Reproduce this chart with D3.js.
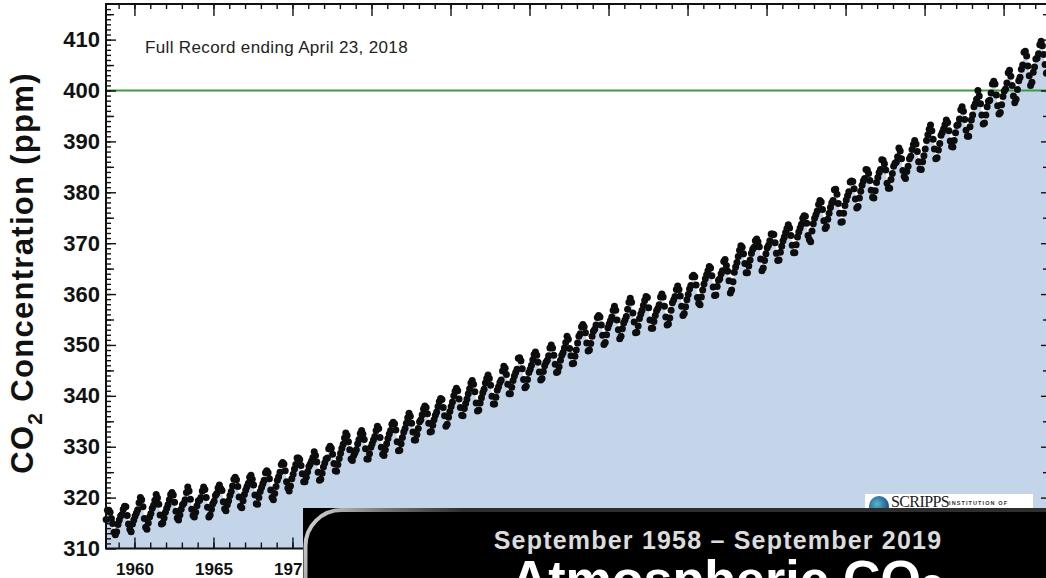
<!DOCTYPE html>
<html><head><meta charset="utf-8">
<script src="https://cdn.jsdelivr.net/npm/d3@7"></script>
<style>html,body{margin:0;padding:0;background:#fff;overflow:hidden}svg{display:block}</style>
</head><body><svg id="c" width="1046" height="578"></svg>
<script>
// ---- data (monthly mean CO2, ppm; first year starts in March) ----
const firstYear = 1958;
const firstMonth = 3;
const co2ByYear = [
 [315.7,317.5,317.5,317.1,315.9,314.9,313.2,312.7,313.3,314.7],
 [315.6,316.4,316.7,317.7,318.3,318.2,316.5,314.8,313.8,313.3,314.8,315.6],
 [316.4,317.0,317.6,319.0,320.0,319.6,318.2,315.9,314.2,313.8,315.0,316.2],
 [316.9,317.9,318.5,319.5,320.6,319.9,318.7,316.6,314.8,315.0,316.0,317.1],
 [317.9,318.6,319.6,320.6,321.0,320.5,319.1,317.3,316.0,315.6,316.6,317.7],
 [318.6,318.9,319.6,321.0,322.1,321.3,319.7,317.7,316.5,316.2,317.1,318.4],
 [319.4,319.5,320.0,321.3,322.1,321.6,320.0,318.1,316.2,316.6,317.7,318.8],
 [319.3,320.4,320.8,321.9,322.5,321.8,321.4,319.2,317.8,317.4,318.6,319.4],
 [320.4,321.2,322.3,323.6,324.0,323.5,322.2,320.1,318.3,318.0,319.4,320.6],
 [321.5,322.2,322.8,324.0,324.4,323.6,322.5,320.5,318.8,318.7,320.0,321.2],
 [322.0,322.7,323.4,324.9,325.3,324.9,323.7,321.5,320.0,319.6,320.8,322.2],
 [323.4,324.1,325.0,326.5,326.9,326.6,325.3,323.1,321.9,321.3,322.3,323.7],
 [324.6,325.6,326.5,327.8,327.8,327.5,326.3,324.7,323.1,323.1,324.0,325.1],
 [326.1,326.6,327.2,327.9,329.0,328.3,327.0,325.0,323.4,323.6,324.8,326.0],
 [326.8,327.6,327.8,329.6,330.1,329.7,328.5,326.7,325.3,325.2,326.5,327.7],
 [328.7,329.7,330.5,331.7,332.7,332.2,331.0,329.4,327.6,327.3,328.3,328.8],
 [329.4,330.6,331.4,332.6,333.2,332.5,331.4,329.6,327.6,327.6,328.6,329.9],
 [330.6,331.3,332.0,333.2,334.0,333.6,331.8,329.9,328.5,328.3,329.4,330.6],
 [331.6,332.5,333.2,334.4,334.8,334.5,333.3,331.0,329.2,329.3,330.6,331.8],
 [332.9,333.6,334.6,335.7,336.6,336.0,334.6,332.9,331.3,331.3,332.4,333.6],
 [334.9,335.3,336.3,337.4,338.0,337.7,336.5,334.6,332.9,333.0,334.2,335.3],
 [336.2,336.8,337.9,338.9,339.5,339.3,337.7,336.1,334.0,334.4,335.8,336.9],
 [337.9,338.8,340.0,340.9,341.5,341.0,339.4,337.7,336.2,336.1,337.5,338.5],
 [339.4,340.4,341.4,342.5,343.0,342.3,340.8,338.6,337.0,337.2,338.6,339.6],
 [340.6,341.3,342.5,343.4,344.1,343.4,342.1,339.9,338.4,338.4,339.7,341.1],
 [341.8,342.6,343.1,344.9,345.8,345.4,344.2,342.3,340.4,340.4,341.7,343.0],
 [343.9,344.6,345.2,347.4,347.5,346.9,345.3,343.2,341.6,341.9,343.2,344.6],
 [345.2,346.0,347.1,348.1,348.6,348.0,346.6,344.7,343.1,343.4,344.8,345.9],
 [346.6,347.0,347.9,349.4,350.0,349.4,348.0,346.2,344.6,344.8,345.7,347.0],
 [348.0,348.5,349.4,350.5,351.7,351.1,349.3,347.9,346.3,346.4,347.8,349.0],
 [350.4,351.7,352.2,353.6,354.0,353.6,352.4,350.4,348.8,349.0,350.3,351.7],
 [352.7,353.1,353.9,355.4,355.8,355.5,353.9,351.9,350.1,350.5,352.0,353.4],
 [354.1,354.8,355.5,356.8,357.6,356.8,354.9,353.0,351.2,351.7,353.2,354.3],
 [354.9,355.6,357.0,358.4,359.2,358.4,356.3,354.5,352.4,352.5,353.7,355.2],
 [356.1,356.8,357.8,358.8,359.5,359.3,357.3,354.9,353.3,353.3,354.6,355.8],
 [356.7,357.2,357.9,359.4,360.0,359.4,357.6,355.5,353.9,354.1,355.3,356.8],
 [358.3,358.9,359.5,360.9,361.6,360.9,359.6,357.6,355.8,356.2,357.5,358.9],
 [359.9,361.0,361.7,363.4,363.7,363.4,361.8,359.3,358.2,357.9,359.4,360.8],
 [362.0,363.0,363.8,364.6,365.4,365.1,363.6,361.4,359.7,359.8,361.5,362.7],
 [363.0,364.0,364.6,366.4,366.8,365.6,364.5,362.6,360.2,360.8,362.4,364.3],
 [365.3,366.2,367.4,368.6,369.5,369.2,367.9,366.0,364.2,364.2,365.5,366.7],
 [368.0,368.8,369.2,370.5,370.8,370.3,369.3,366.9,364.6,365.1,366.6,367.9],
 [369.1,369.6,370.5,371.8,371.8,371.7,370.1,368.0,366.6,366.7,368.2,369.4],
 [370.5,371.2,372.1,372.9,373.6,373.0,371.5,369.6,368.1,368.1,369.7,371.2],
 [372.2,373.0,373.7,374.9,375.4,375.3,373.9,371.5,370.7,370.3,372.4,373.8],
 [374.9,375.6,376.3,377.6,378.4,378.1,376.6,374.4,372.9,373.3,374.7,375.9],
 [377.0,377.9,378.4,380.5,380.6,379.6,377.8,375.9,374.1,374.2,375.9,377.4],
 [378.5,379.3,380.1,382.0,382.2,382.1,380.7,378.7,376.9,377.2,378.9,380.2],
 [381.4,382.2,382.7,384.5,384.4,383.7,382.3,380.4,379.0,378.9,380.3,381.9],
 [382.9,383.9,384.5,386.4,386.3,385.6,384.4,381.8,380.8,380.8,382.5,383.7],
 [385.1,385.7,385.9,387.0,388.7,388.1,386.6,384.3,383.1,382.7,384.1,385.1],
 [386.6,387.1,388.4,389.4,390.2,389.5,388.0,386.0,384.6,384.5,386.0,387.2],
 [388.5,390.2,391.3,392.4,393.2,392.1,390.4,388.5,386.6,386.8,388.3,389.6],
 [391.2,391.8,392.5,393.3,394.2,393.7,392.1,390.1,389.0,388.9,390.2,391.7],
 [393.1,393.3,394.4,396.2,396.8,395.9,394.3,392.2,391.0,391.0,392.9,394.2],
 [395.2,396.8,397.4,398.3,400.0,398.9,397.4,395.2,393.4,393.6,395.2,396.8],
 [397.9,398.1,399.5,401.3,401.8,401.3,399.1,397.0,395.4,395.7,397.2,398.8],
 [399.9,400.3,401.5,403.5,404.0,402.8,401.0,398.9,397.6,398.3,400.2,401.9],
 [402.6,404.2,405.0,407.5,407.7,406.8,404.8,402.9,401.0,401.6,403.6,404.6],
 [406.2,406.4,407.2,409.0,409.7,408.8,407.1,405.1,403.4,403.6,405.1,406.6],
 [407.9,408.4,409.0,410.2]
];
const xTickYears = [1960,1965,1970,1975,1980,1985,1990,1995,2000,2005,2010,2015];
const yTickValues = [310,320,330,340,350,360,370,380,390,400,410];
const referenceLevel = 400;
const recordNote = "Full Record ending April 23, 2018";
const bannerDates = "September 1958 \u2013 September 2019";
const bannerTitle = "Atmospheric CO";
const bannerSub = "2";

// ---- build points ----
const points = [];
co2ByYear.forEach((vals, i) => {
  const yr = firstYear + i;
  const m0 = i === 0 ? firstMonth : 1;
  vals.forEach((v, j) => points.push({t: yr + (m0 + j - 0.5) / 12, v}));
});

const svg = d3.select("#c");
const L = 106, R = 1051, T = 4, B = 548.5;
const x = d3.scaleLinear().domain([1958.2, 2018.0]).range([L, R]);
const y = d3.scaleLinear().domain([310, 417]).range([B, T]);

const defs = svg.append("defs");
defs.append("clipPath").attr("id", "plotclip").append("rect")
  .attr("x", L).attr("y", T).attr("width", R - L).attr("height", B - T);
const g1 = defs.append("linearGradient").attr("id", "bord").attr("gradientUnits", "userSpaceOnUse")
  .attr("x1", 312).attr("y1", 515).attr("x2", 430).attr("y2", 575);
g1.append("stop").attr("offset", 0).attr("stop-color", "#cfcfcf");
g1.append("stop").attr("offset", 0.45).attr("stop-color", "#7a7a7a");
g1.append("stop").attr("offset", 1).attr("stop-color", "#2e2e2e");
const g2 = defs.append("radialGradient").attr("id", "globe").attr("cx", "40%").attr("cy", "40%").attr("r", "60%");
g2.append("stop").attr("offset", 0).attr("stop-color", "#59b7c9");
g2.append("stop").attr("offset", 1).attr("stop-color", "#1c4f8f");

// area
svg.append("path").datum(points).attr("clip-path", "url(#plotclip)")
  .attr("fill", "#c4d5ea")
  .attr("d", d3.area().x(d => x(d.t)).y0(y(310)).y1(d => y(d.v)));

// 400 ppm line
svg.append("line").attr("x1", L).attr("x2", R)
  .attr("y1", y(referenceLevel)).attr("y2", y(referenceLevel))
  .attr("stroke", "#3b9a42").attr("stroke-width", 2.2);

// dots
svg.append("g").selectAll("circle").data(points).join("circle")
  .attr("cx", d => x(d.t)).attr("cy", d => y(d.v)).attr("r", 3.5).attr("fill", "#0d0d0d");

// axes
function styleAxis(g) {
  g.selectAll("path.domain").remove();
  g.selectAll("line").attr("stroke", "#111").attr("stroke-width", 1.4);
}
const yearsAll = d3.range(1959, 2019);
const ppmAll = d3.range(311, 417);
const ppm5 = d3.range(315, 417, 10);
// left
svg.append("g").attr("transform", `translate(${L},0)`)
  .call(d3.axisLeft(y).tickValues(ppmAll).tickSize(-5).tickFormat("")).call(styleAxis);
svg.append("g").attr("transform", `translate(${L},0)`)
  .call(d3.axisLeft(y).tickValues(ppm5).tickSize(-8).tickFormat("")).call(styleAxis);
const ly = svg.append("g").attr("transform", `translate(${L},0)`)
  .call(d3.axisLeft(y).tickValues(yTickValues).tickSize(-10).tickPadding(6).tickFormat(d3.format("d"))).call(styleAxis);
ly.selectAll("text").attr("font-family", "Liberation Sans, Arial, sans-serif")
  .attr("font-weight", "bold").attr("font-size", 22).attr("fill", "#111");
// right
svg.append("g").attr("transform", `translate(${R},0)`)
  .call(d3.axisRight(y).tickValues(ppmAll).tickSize(-5).tickFormat("")).call(styleAxis);
svg.append("g").attr("transform", `translate(${R},0)`)
  .call(d3.axisRight(y).tickValues(ppm5).tickSize(-8).tickFormat("")).call(styleAxis);
svg.append("g").attr("transform", `translate(${R},0)`)
  .call(d3.axisRight(y).tickValues(yTickValues).tickSize(-10).tickFormat("")).call(styleAxis);
// bottom
svg.append("g").attr("transform", `translate(0,${B})`)
  .call(d3.axisBottom(x).tickValues(yearsAll).tickSize(-6).tickFormat("")).call(styleAxis);
const bx = svg.append("g").attr("transform", `translate(0,${B})`)
  .call(d3.axisBottom(x).tickValues(xTickYears).tickSize(-11).tickPadding(14).tickFormat(d3.format("d"))).call(styleAxis);
bx.selectAll("text").attr("font-family", "Liberation Sans, Arial, sans-serif")
  .attr("font-weight", "bold").attr("font-size", 17).attr("fill", "#111");
// top
svg.append("g").attr("transform", `translate(0,${T})`)
  .call(d3.axisTop(x).tickValues(yearsAll).tickSize(-5).tickFormat("")).call(styleAxis);
svg.append("g").attr("transform", `translate(0,${T})`)
  .call(d3.axisTop(x).tickValues(xTickYears).tickSize(-12).tickFormat("")).call(styleAxis);

// frame
svg.append("rect").attr("x", L).attr("y", T).attr("width", R - L).attr("height", B - T)
  .attr("fill", "none").attr("stroke", "#111").attr("stroke-width", 2);

// y title
const yt = svg.append("text").attr("transform", "translate(33,273) rotate(-90)")
  .attr("text-anchor", "middle").attr("font-family", "Liberation Sans, Arial, sans-serif")
  .attr("font-weight", "bold").attr("font-size", 31).attr("letter-spacing", 1.3).attr("fill", "#111");
yt.append("tspan").text("CO");
yt.append("tspan").attr("font-size", 21).attr("dy", 9).text("2");
yt.append("tspan").attr("dy", -9).text(" Concentration (ppm)");

// note
svg.append("text").attr("x", 145).attr("y", 53).attr("font-family", "Liberation Sans, Arial, sans-serif")
  .attr("font-size", 17).attr("letter-spacing", 0.35).attr("fill", "#222").text(recordNote);

// Scripps logo
svg.append("rect").attr("x", 865).attr("y", 494).attr("width", 168).attr("height", 20).attr("fill", "#fff");
svg.append("circle").attr("cx", 879).attr("cy", 506).attr("r", 10).attr("fill", "url(#globe)");
svg.append("text").attr("x", 891).attr("y", 507).attr("font-family", "Liberation Serif, Times New Roman, serif")
  .attr("font-size", 16).attr("letter-spacing", -0.6).attr("fill", "#1a1a1a").text("SCRIPPS");
svg.append("text").attr("x", 949).attr("y", 505).attr("font-family", "Liberation Sans, Arial, sans-serif")
  .attr("font-size", 5.5).attr("font-weight", "bold").attr("letter-spacing", 1.1).attr("fill", "#333").text("INSTITUTION OF");

// banner
svg.append("rect").attr("x", 303).attr("y", 508).attr("width", 760).attr("height", 80).attr("fill", "#000");
svg.append("path").attr("d", "M305.5,590 L305.5,546 A36,36 0 0 1 341.5,510 L1050,510")
  .attr("fill", "none").attr("stroke", "url(#bord)").attr("stroke-width", 4);
svg.append("text").attr("x", 718).attr("y", 549).attr("text-anchor", "middle")
  .attr("font-family", "Liberation Sans, Arial, sans-serif").attr("font-weight", "bold")
  .attr("font-size", 25).attr("letter-spacing", 1.2).attr("fill", "#dcdcdc").text(bannerDates);
const bt = svg.append("text").attr("x", 727).attr("y", 597).attr("text-anchor", "middle")
  .attr("font-family", "Liberation Sans, Arial, sans-serif").attr("font-weight", "bold")
  .attr("font-size", 52).attr("fill", "#fff");
bt.append("tspan").text(bannerTitle);
bt.append("tspan").attr("font-size", 40).attr("dy", 6).text(bannerSub);
</script></body></html>
